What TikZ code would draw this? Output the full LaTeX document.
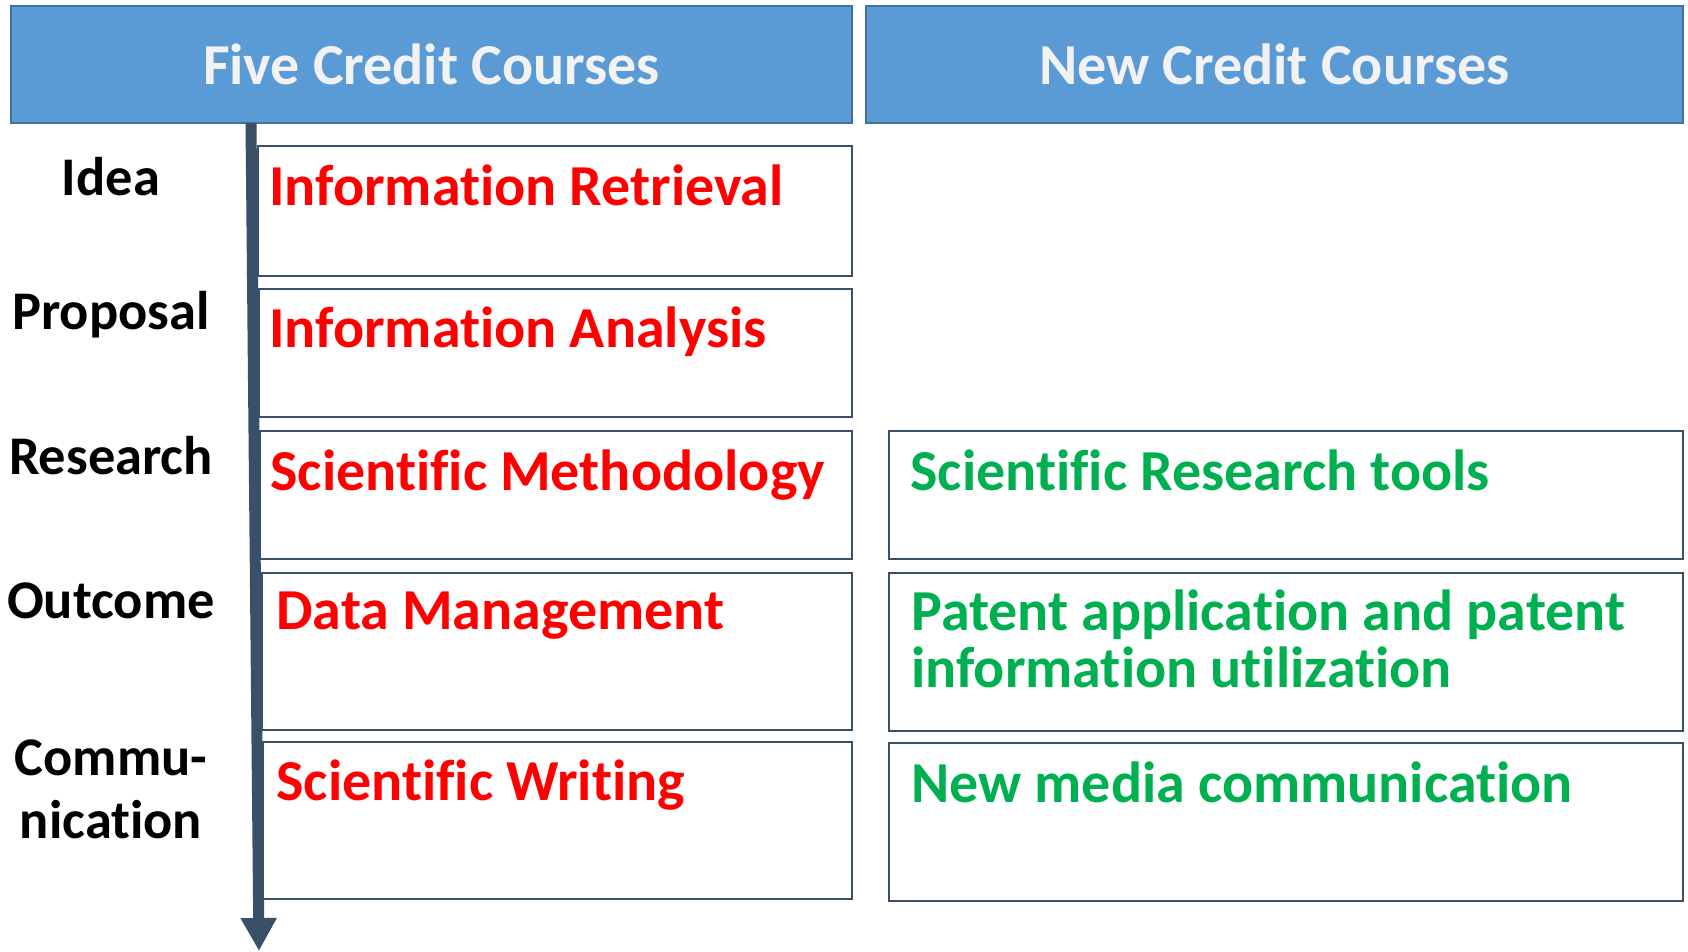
\documentclass[tikz,border=0pt]{standalone}
\usepackage{fontspec}
\setmainfont{Carlito}[RawFeature={-liga;-clig;-dlig}]
\usetikzlibrary{arrows.meta}
\definecolor{headblue}{HTML}{5B9BD5}
\definecolor{headline}{HTML}{41719C}
\definecolor{headtext}{HTML}{F2F2F2}
\definecolor{slate}{HTML}{3A5068}
\definecolor{oldred}{HTML}{FF0000}
\definecolor{newgreen}{HTML}{00B050}

\tikzset{
    head/.style={draw=headline, fill=headblue, line width=0.05cm, anchor=north west,
        inner sep=0, outer sep=0, minimum height=2.34cm, text=headtext,
        font=\fontsize{33}{40}\selectfont\bfseries},
    coursebox/.style={draw=slate, line width=0.04cm, anchor=north west, inner sep=0, outer sep=0},
    oldcourse/.style={anchor=base west, inner sep=0, text=oldred,
        font=\fontsize{33}{40}\selectfont\bfseries},
    newcourse/.style={anchor=base west, inner sep=0, text=newgreen, align=left,
        font=\fontsize{33}{32.4}\selectfont\bfseries},
    stage/.style={anchor=base, inner sep=0, align=center,
        font=\fontsize{31}{35.7}\selectfont\bfseries}
}

\begin{document}
\begin{tikzpicture}[x=0.02cm, y=-0.02cm]
    \useasboundingbox (0,0) rectangle (1688,951);

    \node [head, minimum width=16.82cm] (five) at (11,6) {Five Credit Courses};
    \node [head, minimum width=16.34cm] (new) at (866,6) {New Credit Courses};

    \coordinate (start) at (251,123);
    \coordinate (end) at (259,951);
    \draw [slate, line width=0.22cm, -{Triangle[length=0.66cm, width=0.68cm]}] (start) -- (end);

    \node [coursebox, minimum width=11.88cm, minimum height=2.60cm] (retrieval) at (258,146) {};
    \node [coursebox, minimum width=11.86cm, minimum height=2.56cm] (analysis) at (259,289) {};
    \node [coursebox, minimum width=11.84cm, minimum height=2.56cm] (method) at (260,431) {};
    \node [coursebox, minimum width=11.80cm, minimum height=3.14cm] (data) at (262,573) {};
    \node [coursebox, minimum width=11.78cm, minimum height=3.14cm] (writing) at (263,742) {};

    \node [coursebox, minimum width=15.88cm, minimum height=2.56cm] (tools) at (889,431) {};
    \node [coursebox, minimum width=15.88cm, minimum height=3.16cm] (patent) at (889,573) {};
    \node [coursebox, minimum width=15.88cm, minimum height=3.16cm] (media) at (889,743) {};

    \node [oldcourse] (retrievaltext) at (269,205) {Information Retrieval};
    \node [oldcourse] (analysistext) at (269,347) {Information Analysis};
    \node [oldcourse] (methodtext) at (270,490) {Scientific Methodology};
    \node [oldcourse] (datatext) at (276,629) {Data Management};
    \node [oldcourse] (writingtext) at (276,800) {Scientific Writing};

    \node [newcourse] (toolstext) at (910,490) {Scientific Research tools};
    \node [newcourse] (patenttext) at (911,687) {Patent application and patent\\information utilization};
    \node [newcourse] (mediatext) at (911,802) {New media communication};

    \foreach \name/\y/\label in {idea/195/Idea, proposal/329/Proposal, research/474/Research, outcome/618/Outcome}
    {
        \node [stage] (\name) at (111,\y) {\label};
    }
    \node [stage] (communication) at (111,838) {Commu-\\nication};
\end{tikzpicture}
\end{document}
